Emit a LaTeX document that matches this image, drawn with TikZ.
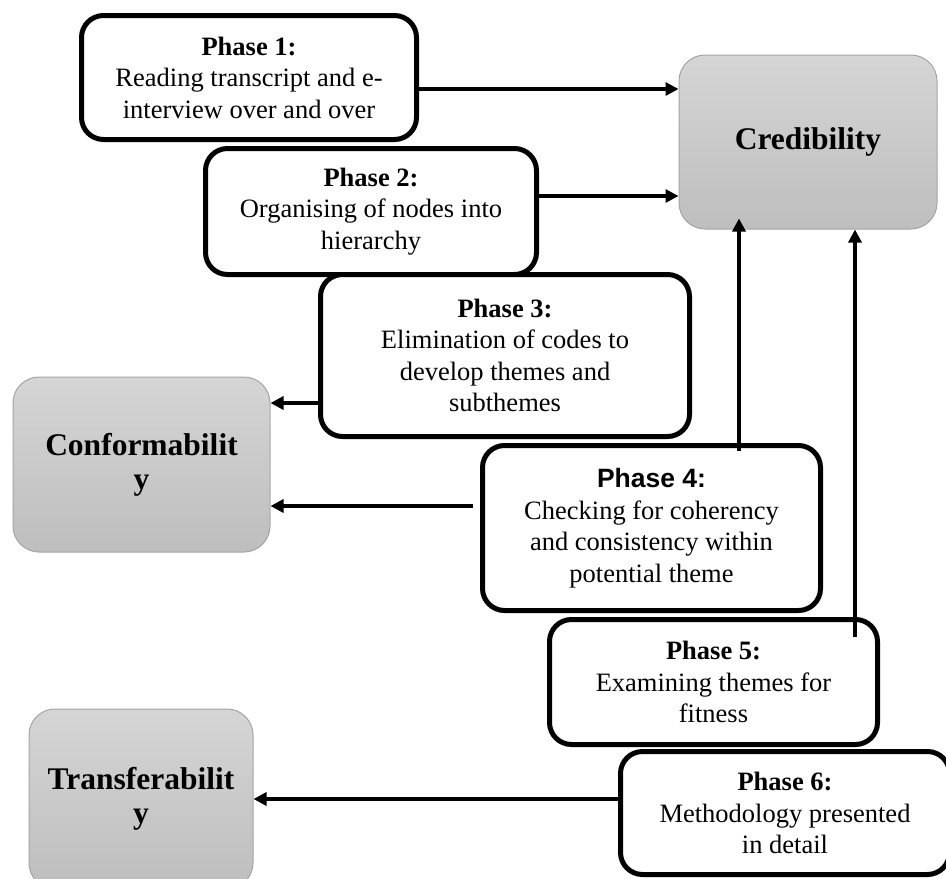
\documentclass[tikz,border=0pt]{standalone}
\usepackage{fontspec}
\setmainfont{Liberation Serif}
\newfontfamily\arialf{Liberation Sans}
\usetikzlibrary{arrows.meta,calc}
\definecolor{gtop}{RGB}{213,213,213}
\definecolor{gbot}{RGB}{190,190,190}
\definecolor{gborder}{RGB}{165,165,165}
\begin{document}
\begin{tikzpicture}[x=1pt,y=-1pt,
  phasebox/.style={draw=black, line width=5pt, fill=white, rounded corners=22pt,
    inner sep=0pt, align=center, font=\fontsize{26.5}{31.5}\selectfont},
  critbox/.style={draw=gborder, line width=1pt, top color=gtop, bottom color=gbot,
    rounded corners=26pt, inner sep=0pt, align=center,
    font=\fontsize{31.5}{34}\selectfont\bfseries},
  arr/.style={line width=4pt, -{Triangle[length=13pt,width=13pt]}}]
\useasboundingbox (0,0) rectangle (946,879);

% criteria boxes
\node[critbox, minimum width=258pt, minimum height=174pt] (cred) at (808,142) {Credibility};
\node[critbox, minimum width=257pt, minimum height=175pt] (conf) at (141.5,464.5) {Conformabilit\\y};
\node[critbox, minimum width=224pt, minimum height=180pt] (trans) at (141,799) {Transferabilit\\y};

% phase boxes
\node[phasebox, minimum width=335pt, minimum height=124pt] (p1) at (249,77.5)
  {\textbf{Phase 1:}\\Reading transcript and e-\\interview over and over};
\node[phasebox, minimum width=331pt, minimum height=126pt] (p2) at (371,211.5)
  {\textbf{Phase 2:}\\Organising of nodes into\\hierarchy};
\node[phasebox, minimum width=369pt, minimum height=162pt] (p3) at (505,355.5)
  {\textbf{Phase 3:}\\Elimination of codes to\\develop themes and\\subthemes};
\node[phasebox, minimum width=338pt, minimum height=165pt] (p4) at (651.5,528)
  {{\arialf\bfseries Phase 4:}\\Checking for coherency\\and consistency within\\potential theme};
\node[phasebox, minimum width=328pt, minimum height=125pt] (p5) at (713.5,682)
  {\textbf{Phase 5:}\\Examining themes for\\fitness};
\node[phasebox, minimum width=329pt, minimum height=123pt] (p6) at (785,813)
  {\textbf{Phase 6:}\\Methodology presented\\in detail};

% helper coordinates for connector levels
\coordinate (y1) at (0,89);
\coordinate (y2) at (0,196);
\coordinate (y3) at (0,403);
\coordinate (y4) at (0,506);
\coordinate (y6) at (0,799);
\coordinate (x4) at (739,0);
\coordinate (x5) at (855,0);

% connectors
\draw[arr] (p1.east |- y1) -- (cred.west |- y1);
\draw[arr] (p2.east |- y2) -- (cred.west |- y2);
\draw[arr] (p3.west |- y3) -- (conf.east |- y3);
\draw[arr, shorten <=7pt] (p4.west |- y4) -- (conf.east |- y4);
\draw[arr] ($(p4.north -| x4)+(0,8)$) -- ($(cred.south -| x4)+(0,-11)$);
\draw[arr] ($(p5.north -| x5)+(0,20)$) -- (cred.south -| x5);
\draw[arr] (p6.west |- y6) -- (trans.east |- y6);
\end{tikzpicture}
\end{document}
